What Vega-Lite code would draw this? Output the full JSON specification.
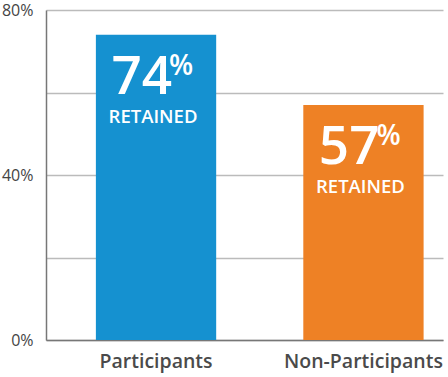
{
  "$schema": "https://vega.github.io/schema/vega-lite/v6.json",
  "width": 397,
  "height": 330,
  "autosize": "none",
  "padding": {"left": 46, "top": 10, "right": 5, "bottom": 37},
  "background": "white",
  "config": {"view": {"stroke": null}, "font": "Open Sans"},
  "data": {"values": [
    {"group": "Participants", "value": 74, "num": "74", "pct": "%", "note": "RETAINED"},
    {"group": "Non-Participants", "value": 57, "num": "57", "pct": "%", "note": "RETAINED"}
  ]},
  "encoding": {
    "x": {"field": "group", "type": "nominal", "sort": null,
      "scale": {"paddingInner": 0.42, "paddingOuter": 0.167, "align": 0.72},
      "axis": {"title": null, "labelAngle": 0, "labelFontSize": 19.5, "labelFontWeight": 600, "labelColor": "#4a4a4a", "labelPadding": 12, "ticks": false, "domainColor": "#777777", "domainWidth": 1.5, "labelFont": "Open Sans"}},
    "y": {"field": "value", "type": "quantitative",
      "scale": {"domain": [0, 80], "nice": false},
      "axis": {"title": null, "values": [0, 20, 40, 60, 80], "labelExpr": "datum.value % 40 == 0 ? datum.value + '%' : ''", "labelFontSize": 16, "labelColor": "#444444", "labelPadding": 13, "ticks": false, "domainColor": "#777777", "domainWidth": 1.5, "gridColor": "#bbbbbb", "gridWidth": 1.5, "labelFont": "Open Sans"}}
  },
  "layer": [
    {"mark": {"type": "bar"},
      "encoding": {"color": {"field": "group", "type": "nominal", "sort": null, "scale": {"domain": ["Participants", "Non-Participants"], "range": ["#1591D0", "#EE8125"]}, "legend": null}}},
    {"mark": {"type": "text", "align": "right", "baseline": "alphabetic", "dx": 16, "dy": 59, "fontSize": 53, "fontWeight": 600, "color": "white", "font": "Open Sans"},
      "encoding": {"text": {"field": "num"}}},
    {"mark": {"type": "text", "align": "left", "baseline": "alphabetic", "dx": 13, "dy": 40, "fontSize": 28, "fontWeight": 600, "color": "white", "font": "Open Sans"},
      "encoding": {"text": {"field": "pct"}}},
    {"mark": {"type": "text", "align": "center", "baseline": "alphabetic", "dx": -3, "dy": 88, "fontSize": 18.5, "fontWeight": 600, "color": "white", "font": "Open Sans"},
      "encoding": {"text": {"field": "note"}}}
  ]
}
